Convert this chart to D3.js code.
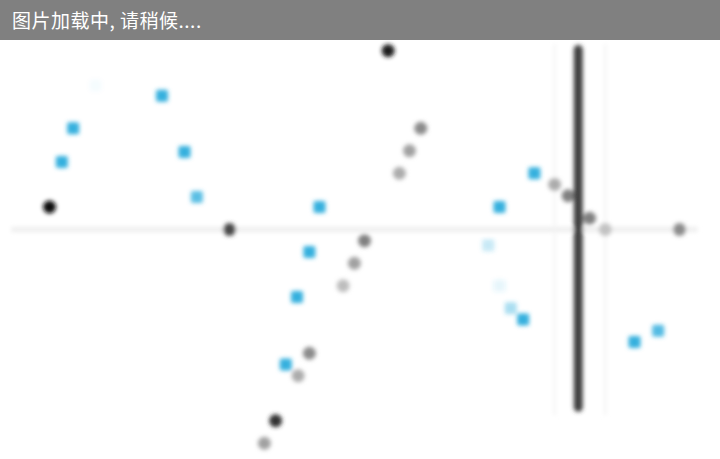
<!DOCTYPE html>
<html>
<head>
<meta charset="utf-8">
<script src="https://cdn.jsdelivr.net/npm/d3@7.9.0/dist/d3.min.js"></script>
<style>
  body { margin: 0; background: #fff; }
  svg { display: block; }
</style>
</head>
<body>
<script>
// grid units (about 11.25px per unit)
const bannerText = "图片加载中, 请稍候....";

// blue squares: [x, y, strength]
const bluePoints = [
  [6.5, 9, 1], [5.5, 6, 1], [14.4, 11.9, 1], [16.4, 6.9, 1], [17.5, 2.9, 0.8],
  [28.4, 2, 1], [27.5, -2, 1], [26.4, -6, 1], [25.4, -12, 1],
  [44.4, 2, 1], [47.5, 5, 1], [46.5, -8, 1], [56.4, -10, 1], [58.5, -9, 0.85],
  [8.5, 12.8, 0.0], [43.4, -1.4, 0.25], [45.4, -7, 0.4], [44.4, -5, 0.08]
];

// grey dots: [x, y, darkness 0..1]
const greyPoints = [
  [4.4, 2, 1], [20.4, 0, 0.75], [34.5, 15.9, 0.95],
  [37.4, 9, 0.45], [36.4, 7, 0.35], [35.5, 5, 0.3],
  [32.4, -1, 0.5], [31.5, -3, 0.35], [30.5, -5, 0.22],
  [27.5, -11, 0.45], [26.5, -13, 0.3], [24.5, -17, 0.85], [23.5, -19, 0.35],
  [49.3, 4, 0.3], [50.5, 3, 0.5], [52.4, 1, 0.5], [53.8, 0, 0.2], [60.4, 0, 0.45]
];

const baseLine = [1, 62];          // horizontal line at y = 0, x from..to
const barX = 51.4;                 // thick vertical bar
const barY = [16, -15.8];
const guideX = [49.3, 53.8];       // faint verticals
const guideY = [16.5, -16.5];

const width = 720, height = 459;

const x = d3.scaleLinear().domain([0, 64]).range([0, width]);
const y = d3.scaleLinear().domain([-20.4, 20.4]).range([height, 0]);
const grey = d3.scaleLinear().domain([0, 1]).range(["#eeeeee", "#111111"]);
const blueOpacity = d3.scaleLinear().domain([0, 1]).range([0.04, 1]);

const svg = d3.select("body").append("svg")
  .attr("width", width)
  .attr("height", height);

svg.append("defs").append("filter")
  .attr("id", "soft")
  .attr("x", "-10%").attr("y", "-10%")
  .attr("width", "120%").attr("height", "120%")
  .append("feGaussianBlur")
  .attr("stdDeviation", 2.1);

const plot = svg.append("g").attr("filter", "url(#soft)");

plot.append("line")
  .attr("x1", x(baseLine[0])).attr("x2", x(baseLine[1]))
  .attr("y1", y(0)).attr("y2", y(0))
  .attr("stroke", "#eeeeee")
  .attr("stroke-width", 5);

plot.selectAll(".guide")
  .data(guideX)
  .join("line")
  .attr("class", "guide")
  .attr("x1", (d) => x(d)).attr("x2", (d) => x(d))
  .attr("y1", y(guideY[0])).attr("y2", y(guideY[1]))
  .attr("stroke", "#f2f2f2")
  .attr("stroke-width", 2);

plot.selectAll(".grey")
  .data(greyPoints)
  .join("circle")
  .attr("class", "grey")
  .attr("cx", (d) => x(d[0]))
  .attr("cy", (d) => y(d[1]))
  .attr("r", 6.5)
  .attr("fill", (d) => grey(d[2]));

plot.append("line")
  .attr("x1", x(barX)).attr("x2", x(barX))
  .attr("y1", y(barY[0])).attr("y2", y(barY[1]))
  .attr("stroke", "#404040")
  .attr("stroke-width", 9)
  .attr("stroke-linecap", "round");

const s = 12;
plot.selectAll(".blue")
  .data(bluePoints)
  .join("rect")
  .attr("class", "blue")
  .attr("x", (d) => x(d[0]) - s / 2)
  .attr("y", (d) => y(d[1]) - s / 2)
  .attr("width", s)
  .attr("height", s)
  .attr("rx", 2)
  .attr("fill", "#35b0de")
  .attr("opacity", (d) => blueOpacity(d[2]));

// loading banner
svg.append("rect")
  .attr("x", 0).attr("y", 0)
  .attr("width", width).attr("height", 40)
  .attr("fill", "#808080");

svg.append("text")
  .attr("x", 12)
  .attr("y", 28)
  .attr("fill", "#ffffff")
  .attr("font-family", "'Noto Sans CJK SC', sans-serif")
  .attr("font-size", 19)
  .attr("letter-spacing", 0.5)
  .text(bannerText);
</script>
</body>
</html>
